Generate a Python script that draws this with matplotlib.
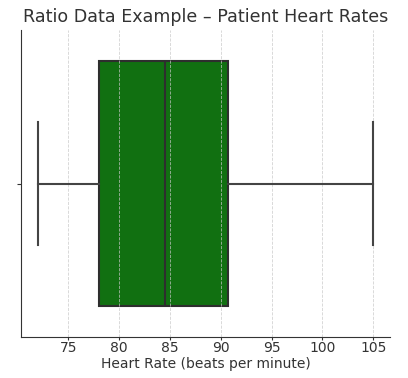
import matplotlib
matplotlib.use("Agg")
import matplotlib.pyplot as plt

# summary values (beats per minute)
whisker_low = 72
q1 = 78
median = 84.5
q3 = 90.7
whisker_high = 105
xticks = [75, 80, 85, 90, 95, 100, 105]

stats = [dict(whislo=whisker_low, q1=q1, med=median, q3=q3, whishi=whisker_high, fliers=[])]

fig, ax = plt.subplots(figsize=(4.08, 3.78), dpi=100)
line_c = "#444444"
ax.bxp(stats, vert=False, widths=0.8, patch_artist=True, showfliers=False,
       boxprops=dict(facecolor="#117011", edgecolor="#2e2e2e", linewidth=1.5, zorder=1),
       medianprops=dict(color="#2e2e2e", linewidth=1.5, zorder=3),
       whiskerprops=dict(color=line_c, linewidth=1.5, zorder=3),
       capprops=dict(color=line_c, linewidth=1.5, zorder=3))
ax.set_ylim(0.5, 1.5)
ax.set_yticks([1])
ax.set_yticklabels([""])
ax.set_xticks(xticks)
ax.set_xlim(whisker_low - 0.05 * (whisker_high - whisker_low),
            whisker_high + 0.05 * (whisker_high - whisker_low))
ax.grid(axis="x", linestyle="--", color="#c8c8c8", linewidth=0.6, alpha=0.8, zorder=2)
ax.set_axisbelow("line")
for s in ["top", "right"]:
    ax.spines[s].set_visible(False)
for s in ["left", "bottom"]:
    ax.spines[s].set_color("#333333")
ax.tick_params(axis="both", colors="#333333", labelsize=10, length=3)
ax.tick_params(axis="x", length=2, pad=1)
ax.set_xlabel("Heart Rate (beats per minute)", fontsize=10, color="#333333", labelpad=1.5)
ax.set_title("Ratio Data Example – Patient Heart Rates", fontsize=12.6, color="#333333")
fig.subplots_adjust(left=0.052, right=0.956, top=0.92, bottom=0.108)
fig.savefig("out.png", dpi=100)
